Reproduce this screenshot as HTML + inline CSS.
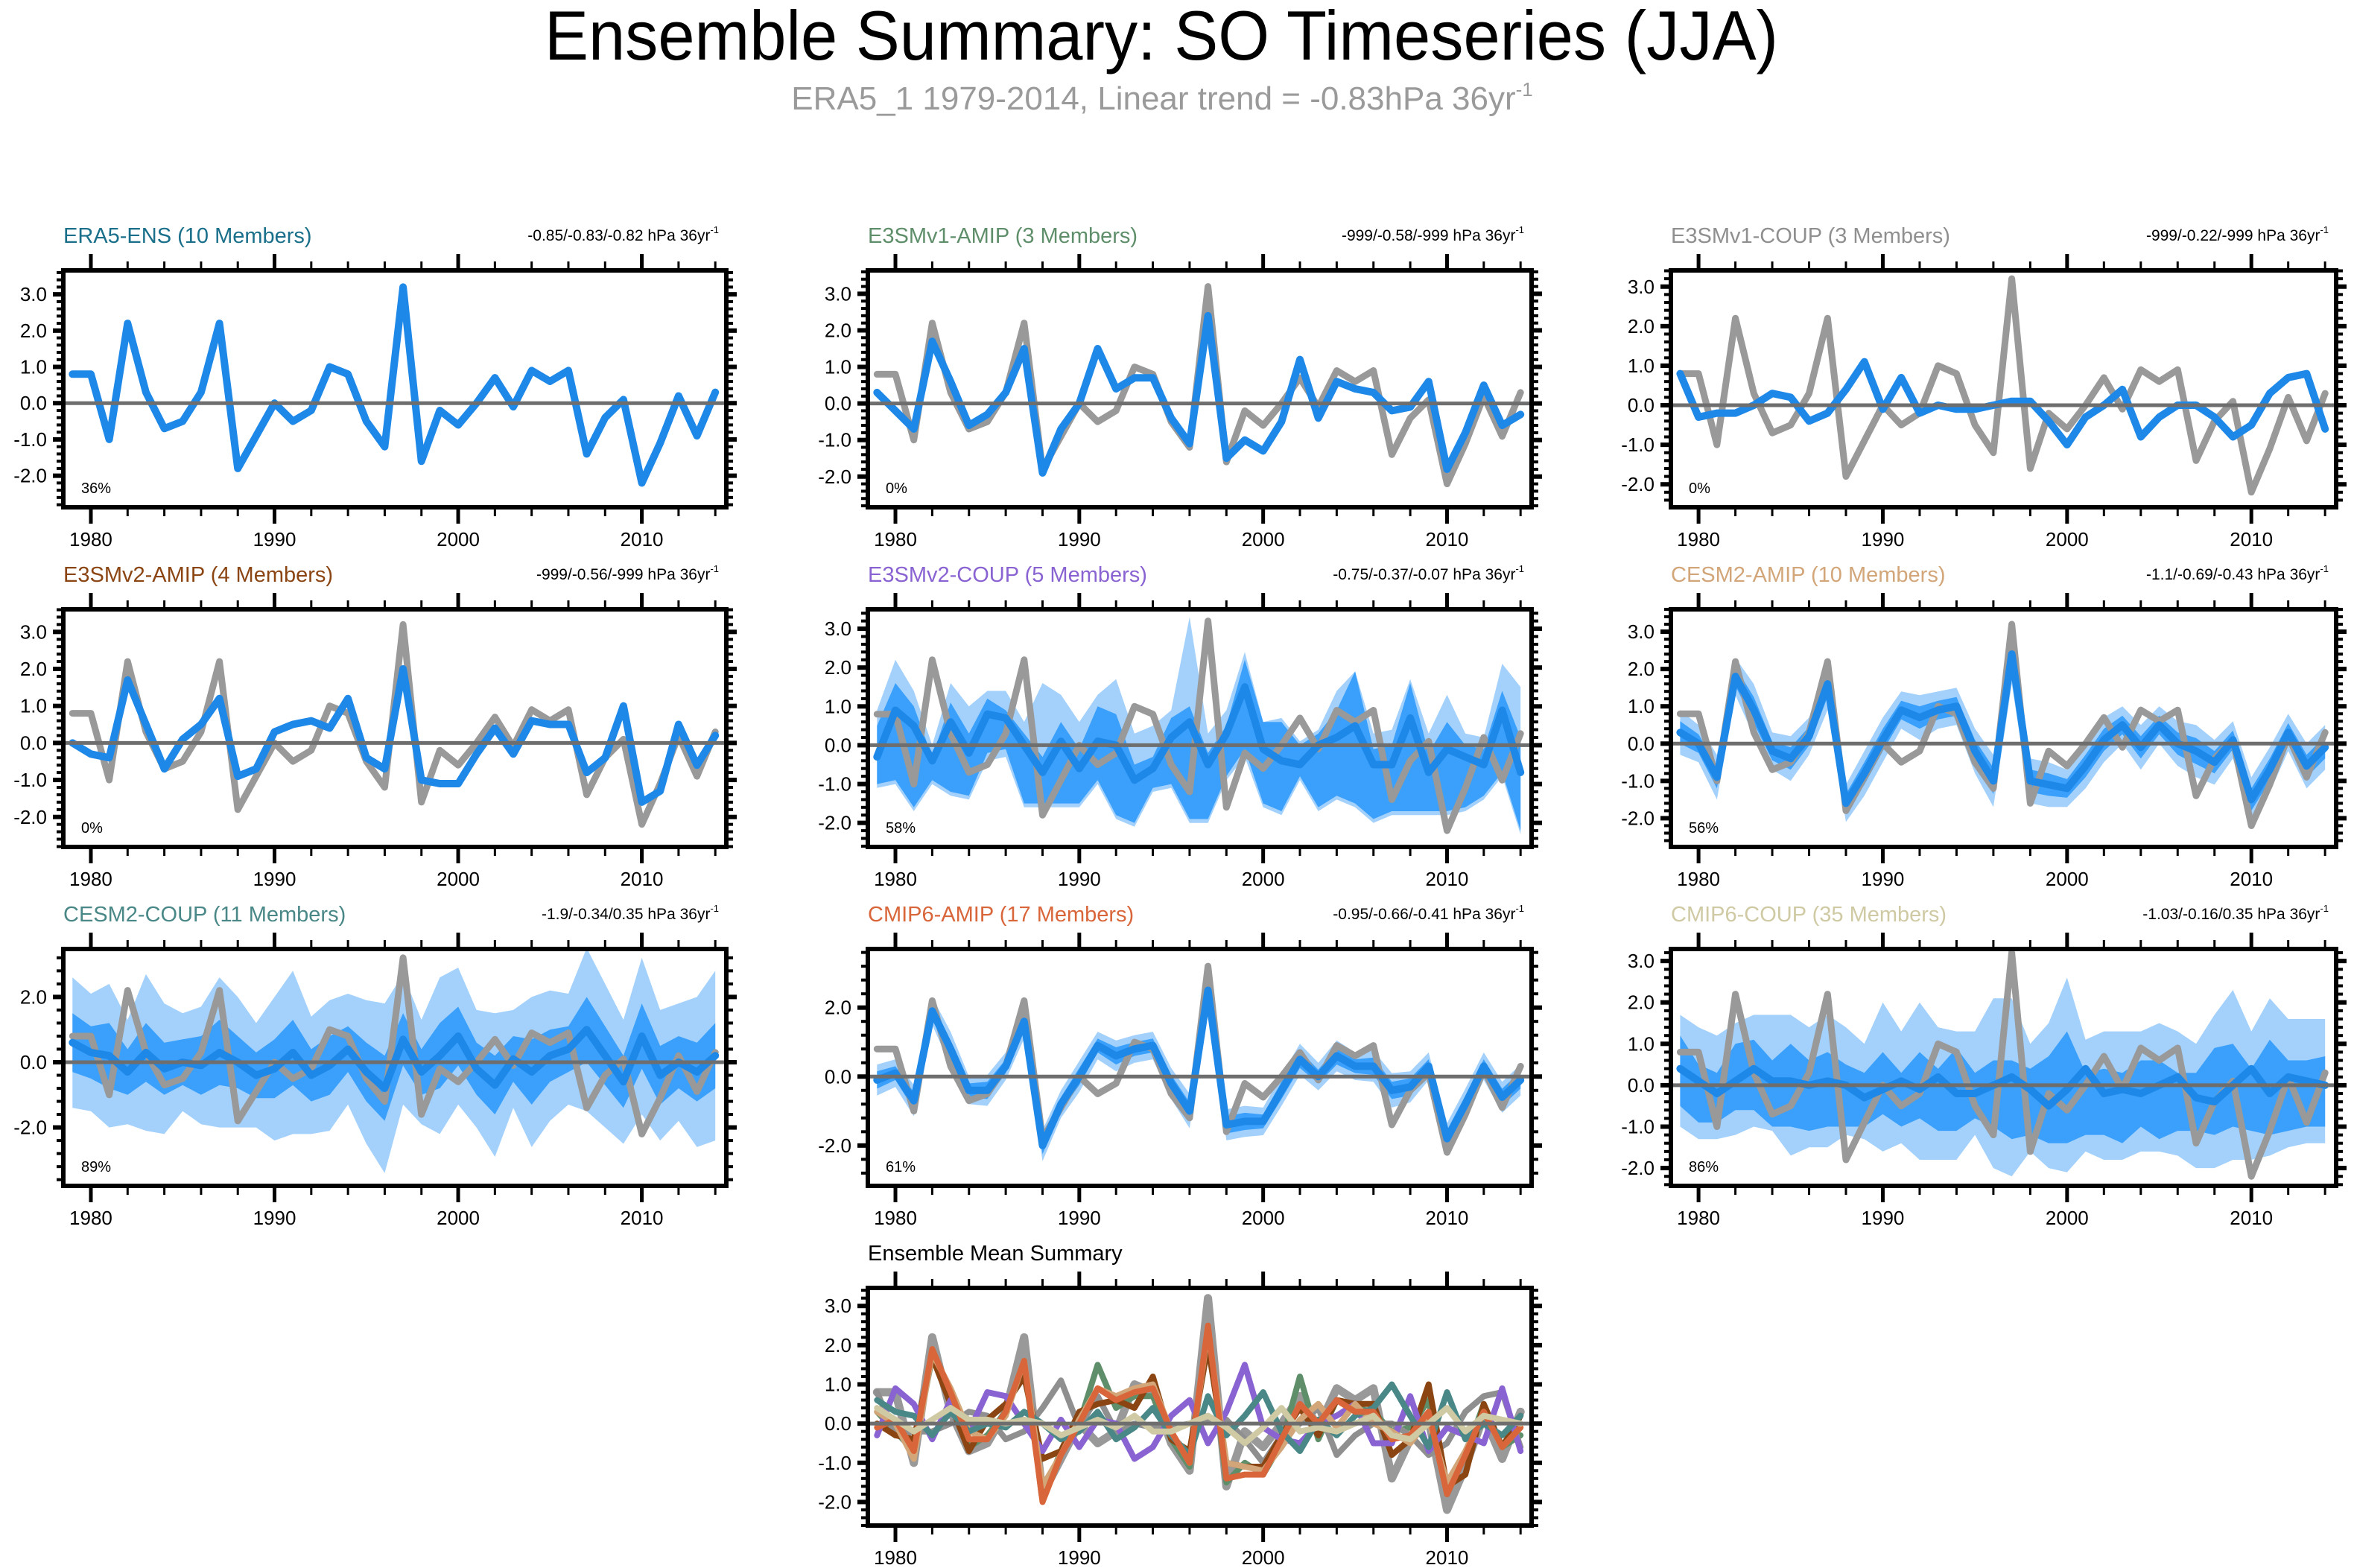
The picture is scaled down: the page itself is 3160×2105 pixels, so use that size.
<!DOCTYPE html>
<html><head><meta charset="utf-8"><style>
html,body{margin:0;padding:0;background:#fff;}
svg{display:block;font-family:"Liberation Sans",sans-serif;}
</style></head><body>
<svg id="chart" width="3160" height="2105" viewBox="0 0 3160 2105" xmlns="http://www.w3.org/2000/svg">
<text x="1559" y="80" text-anchor="middle" font-size="94" textLength="1656" lengthAdjust="spacingAndGlyphs">Ensemble Summary: SO Timeseries (JJA)</text>
<text x="1560" y="147" text-anchor="middle" font-size="44" fill="#9a9a9a">ERA5_1 1979-2014, Linear trend = -0.83hPa 36yr<tspan font-size="26" dy="-18">-1</tspan></text>
</svg>
<script>
const years = [];
for (let y = 1979; y <= 2014; y++) years.push(y);
const obs = [0.8,0.8,-1.0,2.2,0.3,-0.7,-0.5,0.3,2.2,-1.8,-0.9,0.0,-0.5,-0.2,1.0,0.8,-0.5,-1.2,3.2,-1.6,-0.2,-0.6,0.0,0.7,-0.1,0.9,0.6,0.9,-1.4,-0.4,0.1,-2.2,-1.1,0.2,-0.9,0.3];
const meanE3v1A = [0.3,-0.2,-0.7,1.7,0.6,-0.6,-0.3,0.3,1.5,-1.9,-0.7,0.0,1.5,0.4,0.7,0.7,-0.4,-1.1,2.4,-1.5,-1.0,-1.3,-0.5,1.2,-0.4,0.6,0.4,0.3,-0.2,-0.1,0.6,-1.8,-0.8,0.5,-0.6,-0.3];
const meanE3v1C = [0.8,-0.3,-0.2,-0.2,0.0,0.3,0.2,-0.4,-0.2,0.4,1.1,-0.1,0.7,-0.2,0.0,-0.1,-0.1,0.0,0.1,0.1,-0.4,-1.0,-0.3,0.0,0.4,-0.8,-0.3,0.0,0.0,-0.3,-0.8,-0.5,0.3,0.7,0.8,-0.6];
const meanE3v2A = [0.0,-0.3,-0.4,1.7,0.5,-0.7,0.1,0.5,1.2,-0.9,-0.7,0.3,0.5,0.6,0.4,1.2,-0.4,-0.7,2.0,-1.0,-1.1,-1.1,-0.3,0.4,-0.3,0.6,0.5,0.5,-0.8,-0.4,1.0,-1.6,-1.3,0.5,-0.6,0.2];
const meanE3v2C = [-0.3,0.9,0.5,-0.4,0.6,-0.2,0.8,0.7,0.0,-0.7,0.1,-0.6,0.1,0.0,-0.9,-0.6,0.2,0.6,-0.5,0.3,1.5,-0.1,-0.4,-0.5,0.0,0.2,0.5,-0.5,-0.5,0.7,-0.7,-0.1,-0.3,-0.5,0.9,-0.7];
const e3v2cLightHi = [0.9,2.2,1.4,0.0,1.6,1.0,1.4,1.4,0.6,1.6,1.3,0.6,1.3,1.7,0.3,0.5,0.9,3.3,0.3,0.9,2.4,0.6,0.7,0.1,0.4,1.4,1.9,0.3,0.4,1.7,0.3,1.3,0.3,0.2,2.1,1.5];
const e3v2cDarkHi = [0.5,1.6,1.0,-0.3,1.1,0.3,1.2,0.9,0.3,-0.3,0.6,-0.1,1.0,0.8,-0.5,-0.3,0.7,1.0,-0.2,0.5,2.2,0.6,0.6,0.0,0.3,0.9,1.9,-0.1,0.0,1.6,-0.2,0.6,0.0,-0.1,1.4,0.2];
const e3v2cDarkLo = [-1.0,-0.9,-1.6,-0.9,-1.2,-1.3,-0.2,-0.1,-1.5,-1.5,-1.5,-1.5,-0.9,-1.8,-2.0,-1.1,-1.0,-1.9,-1.9,-0.8,-0.1,-1.5,-1.7,-0.8,-1.6,-1.3,-1.5,-1.9,-1.7,-1.7,-1.7,-1.7,-1.6,-1.3,-0.7,-2.2];
const e3v2cLightLo = [-1.1,-1.0,-1.7,-1.0,-1.3,-1.4,-0.4,-0.3,-1.6,-1.6,-1.6,-1.6,-1.0,-1.9,-2.1,-1.2,-1.1,-2.0,-2.0,-0.9,-0.3,-1.6,-1.8,-0.9,-1.7,-1.4,-1.6,-2.0,-1.8,-1.8,-1.8,-1.8,-1.7,-1.4,-0.8,-2.3];
const meanCesmA = [0.3,0.0,-0.9,1.8,0.9,-0.2,-0.4,0.2,1.6,-1.6,-0.8,0.1,0.9,0.7,0.9,1.0,-0.2,-1.0,2.4,-1.0,-1.1,-1.2,-0.6,0.1,0.5,-0.1,0.5,0.0,-0.2,-0.5,0.1,-1.5,-0.7,0.3,-0.6,-0.1];
const cesmALightHalf = [0.6,0.5,0.6,0.5,0.7,0.5,0.6,0.5,0.7,0.5,0.6,0.6,0.5,0.6,0.5,0.5,0.6,0.7,0.8,0.6,0.6,0.5,0.6,0.6,0.5,0.6,0.5,0.6,0.7,0.6,0.5,0.6,0.6,0.5,0.6,0.6];
const cesmADarkHalf = [0.3,0.25,0.3,0.25,0.35,0.25,0.3,0.25,0.35,0.25,0.3,0.3,0.25,0.3,0.25,0.25,0.3,0.35,0.4,0.3,0.3,0.25,0.3,0.3,0.25,0.3,0.25,0.3,0.35,0.3,0.25,0.3,0.3,0.25,0.3,0.3];
const meanCesmC = [0.6,0.3,0.2,-0.3,0.3,-0.2,0.0,-0.1,0.3,0.0,-0.4,-0.2,0.3,-0.4,-0.1,0.4,-0.3,-0.8,0.7,-0.3,0.2,0.8,-0.2,-0.7,0.1,-0.3,0.2,0.4,1.0,0.2,-0.6,0.8,-0.4,0.0,-0.3,0.2];
const cesmCLightHalf = [2.0,1.8,2.2,1.6,2.4,2.0,1.5,1.8,2.3,2.0,1.6,2.2,2.5,1.8,2.0,1.7,2.2,2.6,2.0,1.6,2.4,2.1,1.8,2.2,1.5,2.3,2.0,1.7,2.5,2.2,1.9,2.4,2.0,1.8,2.3,2.6];
const cesmCDarkHalf = [0.9,0.8,1.0,0.7,0.9,0.8,0.7,0.9,1.0,0.8,0.7,0.9,1.0,0.8,0.9,0.7,0.9,1.0,0.8,0.7,1.0,0.9,0.8,0.9,0.7,1.0,0.8,0.7,1.0,0.9,0.8,1.0,0.9,0.8,0.9,1.0];
const meanCmipA = [-0.1,0.1,-0.7,1.9,0.8,-0.4,-0.4,0.3,1.6,-2.0,-0.8,0.0,0.9,0.6,0.8,0.9,-0.2,-1.0,2.5,-1.4,-1.3,-1.3,-0.4,0.5,0.0,0.6,0.3,0.3,-0.4,-0.3,0.3,-1.8,-0.8,0.3,-0.6,-0.1];
const cmipALightHalf = [0.45,0.4,0.45,0.4,0.5,0.4,0.45,0.4,0.5,0.45,0.4,0.45,0.4,0.45,0.4,0.4,0.45,0.5,0.55,0.45,0.45,0.4,0.45,0.45,0.4,0.45,0.4,0.45,0.5,0.45,0.4,0.45,0.45,0.4,0.45,0.45];
const cmipADarkHalf = [0.25,0.2,0.25,0.2,0.25,0.2,0.25,0.2,0.25,0.25,0.2,0.25,0.2,0.25,0.2,0.2,0.25,0.25,0.3,0.25,0.25,0.2,0.25,0.25,0.2,0.25,0.2,0.25,0.25,0.25,0.2,0.25,0.25,0.2,0.25,0.25];
const meanCmipC = [0.4,0.1,-0.2,0.1,0.4,0.1,0.1,0.0,0.1,0.0,-0.3,-0.1,0.1,-0.1,0.2,-0.2,-0.2,0.0,0.2,-0.1,-0.5,-0.1,0.4,-0.2,-0.1,-0.2,0.0,0.2,-0.3,-0.4,0.0,0.4,-0.2,0.2,0.1,0.0];
const cmipCLightHi = [1.7,1.4,1.2,1.5,1.7,1.7,1.7,1.4,1.7,1.4,1.0,2.0,1.3,2.0,1.4,1.3,1.3,2.1,2.1,1.0,1.5,2.6,1.1,1.3,1.3,1.3,1.5,1.3,1.0,1.7,2.3,1.3,2.1,1.6,1.6,1.6];
const cmipCDarkHi = [1.2,0.5,0.3,1.0,1.1,0.6,1.0,0.6,0.8,0.5,0.3,0.8,0.3,0.8,0.4,0.9,0.3,0.6,0.6,0.4,0.7,1.3,0.3,0.4,0.3,0.6,0.6,0.3,0.3,0.9,1.0,0.4,1.1,0.6,0.6,0.7];
const cmipCDarkLo = [-0.5,-0.9,-0.9,-0.6,-0.6,-1.0,-1.0,-1.1,-1.0,-1.0,-1.0,-0.7,-1.0,-0.8,-1.1,-1.1,-0.8,-1.0,-1.3,-1.2,-1.4,-1.4,-1.2,-1.2,-1.4,-1.0,-1.3,-1.1,-1.1,-1.2,-1.0,-1.1,-1.2,-1.1,-1.0,-1.0];
const cmipCLightLo = [-1.0,-1.3,-1.3,-1.2,-1.0,-1.1,-1.7,-1.5,-1.5,-1.2,-1.3,-1.6,-1.4,-1.8,-1.8,-1.8,-1.2,-2.0,-2.2,-1.6,-2.0,-2.1,-1.6,-1.8,-1.8,-1.6,-1.6,-1.7,-2.0,-2.0,-1.8,-1.8,-1.7,-1.5,-1.4,-1.4];
const meanEra = [0.8,0.8,-1.0,2.2,0.3,-0.7,-0.5,0.3,2.2,-1.8,-0.9,0.0,-0.5,-0.2,1.0,0.8,-0.5,-1.2,3.2,-1.6,-0.2,-0.6,0.0,0.7,-0.1,0.9,0.6,0.9,-1.4,-0.4,0.1,-2.2,-1.1,0.2,-0.9,0.3];
const panelTitles = ["ERA5-ENS (10 Members)","E3SMv1-AMIP (3 Members)","E3SMv1-COUP (3 Members)","E3SMv2-AMIP (4 Members)","E3SMv2-COUP (5 Members)","CESM2-AMIP (10 Members)","CESM2-COUP (11 Members)","CMIP6-AMIP (17 Members)","CMIP6-COUP (35 Members)"];
const trendLabels = ["-0.85/-0.83/-0.82 hPa 36yr","-999/-0.58/-999 hPa 36yr","-999/-0.22/-999 hPa 36yr","-999/-0.56/-999 hPa 36yr","-0.75/-0.37/-0.07 hPa 36yr","-1.1/-0.69/-0.43 hPa 36yr","-1.9/-0.34/0.35 hPa 36yr","-0.95/-0.66/-0.41 hPa 36yr","-1.03/-0.16/0.35 hPa 36yr"];
const pctLabels = ["36%","0%","0%","0%","58%","56%","89%","61%","86%"];
const xTickYears = [1980,1990,2000,2010];

const svg = document.getElementById('chart');
const NS = 'http://www.w3.org/2000/svg';
function mk(tag, attrs, parent){ const e=document.createElementNS(NS,tag); for(const k in attrs) e.setAttribute(k,attrs[k]); (parent||svg).appendChild(e); return e; }

const colX = [[85,975],[1165,2056],[2243,3136]];
const rowY = [[363,681],[818,1137],[1274,1592],[1729,2048]];
const titleColors = ["#1a6f8a","#5f8f6a","#8f8f8f","#8b4513","#8a63d2","#d2a679","#4a8888","#d9663a","#cfcaa4"];
const layout = [
 {c:0,r:0,ymin:-2.87,ymax:3.66,step:1,mean:meanEra},
 {c:1,r:0,ymin:-2.84,ymax:3.64,step:1,mean:meanE3v1A},
 {c:2,r:0,ymin:-2.58,ymax:3.41,step:1,mean:meanE3v1C},
 {c:0,r:1,ymin:-2.81,ymax:3.61,step:1,mean:meanE3v2A},
 {c:1,r:1,ymin:-2.62,ymax:3.50,step:1,mean:meanE3v2C,band:[e3v2cLightLo,e3v2cLightHi,e3v2cDarkLo,e3v2cDarkHi]},
 {c:2,r:1,ymin:-2.77,ymax:3.60,step:1,mean:meanCesmA,half:[cesmALightHalf,cesmADarkHalf]},
 {c:0,r:2,ymin:-3.79,ymax:3.47,step:2,mean:meanCesmC,half:[cesmCLightHalf,cesmCDarkHalf]},
 {c:1,r:2,ymin:-3.17,ymax:3.70,step:2,mean:meanCmipA,half:[cmipALightHalf,cmipADarkHalf]},
 {c:2,r:2,ymin:-2.43,ymax:3.29,step:1,mean:meanCmipC,band:[cmipCLightLo,cmipCLightHi,cmipCDarkLo,cmipCDarkHi]},
];
const summaryMeans = [meanE3v1A,meanE3v1C,meanE3v2A,meanE3v2C,meanCesmA,meanCesmC,meanCmipA,meanCmipC];

function drawPanel(i, L, summary){
  const [x0,x1]=colX[L.c], [y0,y1]=rowY[L.r];
  const g = mk('g',{});
  
  
  const xs = y => x0 + (y-1978.5)/(2014.6-1978.5)*(x1-x0);
  const ys = v => y1 - (v-L.ymin)/(L.ymax-L.ymin)*(y1-y0);
  const clipId='clip'+i;
  const cp=mk('clipPath',{id:clipId},g); mk('rect',{x:x0,y:y0,width:x1-x0,height:y1-y0},cp);
  const pg = mk('g',{'clip-path':'url(#'+clipId+')'},g);
  function area(lo,hi,fill,name){
    let d='M'; years.forEach((yr,k)=>{d+=xs(yr).toFixed(1)+','+ys(hi[k]).toFixed(1)+' L';});
    for(let k=years.length-1;k>=0;k--) d+=xs(years[k]).toFixed(1)+','+ys(lo[k]).toFixed(1)+(k?' L':' Z');
    const p=mk('path',{d:d,fill:fill,stroke:'none'},pg);
    
    
  }
  function line(vals,color,w,name){
    const pts=years.map((yr,k)=>xs(yr).toFixed(1)+','+ys(vals[k]).toFixed(1)).join(' ');
    const p=mk('polyline',{points:pts,fill:'none',stroke:color,'stroke-width':w,'stroke-linejoin':'round','stroke-linecap':'round'},pg);
    
    
  }
  if(!summary){
    if(L.band){ area(L.band[0],L.band[1],'#a3d1fc','spread-band-outer'); area(L.band[2],L.band[3],'#3aa0fb','spread-band-inner'); }
    if(L.half){
      const m=L.mean;
      area(m.map((v,k)=>v-L.half[0][k]),m.map((v,k)=>v+L.half[0][k]),'#a3d1fc','spread-band-outer');
      area(m.map((v,k)=>v-L.half[1][k]),m.map((v,k)=>v+L.half[1][k]),'#3aa0fb','spread-band-inner');
    }
    if(i>0) line(obs,'#999999',9,'observed-era5-line');
    line(L.mean,'#1e88e8',10,'ensemble-mean-line');
  } else {
    line(meanEra,titleColors[0],9,'mean-line-era5-ens');
    line(obs,'#999999',11,'observed-era5-line');
    summaryMeans.forEach((m,k)=>line(m,titleColors[k+1],8,'mean-line-'+panelTitles[k+1].split(' ')[0].toLowerCase()));
  }
  const z=mk('line',{x1:x0,x2:x1,y1:ys(0),y2:ys(0),stroke:'#6e6e6e','stroke-width':5},g);
   
  const fr=mk('rect',{x:x0,y:y0,width:x1-x0,height:y1-y0,fill:'none',stroke:'#000','stroke-width':6},g);
   
  for(let yr=1980; yr<=2014; yr+=2){
    const X=xs(yr), maj = yr%10===0, len = maj?22:12, w = maj?5:3;
    mk('line',{x1:X,x2:X,y1:y1,y2:y1+len,stroke:'#000','stroke-width':w},g);
    mk('line',{x1:X,x2:X,y1:y0,y2:y0-len,stroke:'#000','stroke-width':w},g);
  }
  xTickYears.forEach(yr=>{
    const t=mk('text',{x:xs(yr),y:y1+52,'text-anchor':'middle','font-size':26},g); t.textContent=yr;
     
  });
  const minor=L.step/5;
  for(let v=Math.ceil(L.ymin/minor)*minor; v<=L.ymax+1e-9; v+=minor){
    const Y=ys(v), maj=Math.abs(v/L.step-Math.round(v/L.step))<1e-6, len=maj?14:9, w=maj?6:4;
    mk('line',{x1:x0-len,x2:x0,y1:Y,y2:Y,stroke:'#000','stroke-width':w},g);
    mk('line',{x1:x1,x2:x1+len,y1:Y,y2:Y,stroke:'#000','stroke-width':w},g);
    if(maj){
      const t=mk('text',{x:x0-22,y:Y+9,'text-anchor':'end','font-size':26},g);
      t.textContent=(Math.round(v*10)/10).toFixed(1);
       
    }
  }
  if(!summary){
    const t=mk('text',{x:x0,y:y0-37,'font-size':29,fill:titleColors[i]},g); t.textContent=panelTitles[i];
     
    const r=mk('text',{x:x1-10,y:y0-40,'text-anchor':'end','font-size':21},g); r.textContent=trendLabels[i];
     
    const s=mk('tspan',{'font-size':13,dy:-10},r); s.textContent='-1';
    const p=mk('text',{x:x0+24,y:y1-19,'font-size':20},g); p.textContent=pctLabels[i];
     
  } else {
    const t=mk('text',{x:x0,y:y0-37,'font-size':29,fill:'#000'},g); t.textContent='Ensemble Mean Summary';
     
  }
}
layout.forEach((L,i)=>drawPanel(i,L,false));
drawPanel(9,{c:1,r:3,ymin:-2.6,ymax:3.46,step:1},true);
</script>
</body></html>
